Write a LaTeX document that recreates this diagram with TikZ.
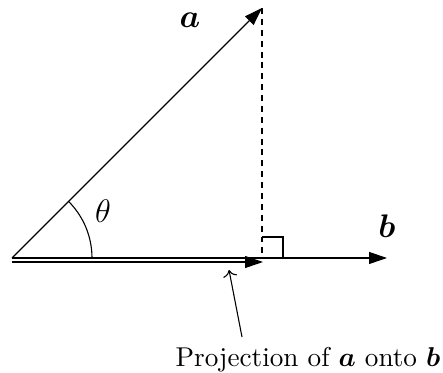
\documentclass[tikz,border=0pt]{standalone}
\usepackage{amsmath,bm}
\usetikzlibrary{arrows.meta}
\begin{document}
\begin{tikzpicture}[x=0.3676pt,y=-0.3676pt,
  vec/.style={-{Triangle[length=6.6pt,width=4.4pt]}},
  dsh/.style={dash pattern=on 2.2pt off 1.8pt},
  lbl/.style={inner sep=0pt,font=\large}]
\useasboundingbox (0,0) rectangle (443,373);
\coordinate (O) at (12,258);
\coordinate (A) at (262,8);
\coordinate (F) at (262,258);
\coordinate (B) at (387,258);
\coordinate (O2) at (12,262);
\coordinate (F2) at (263,262);
\coordinate (Q1) at (262,237);
\coordinate (Q2) at (283,237);
\coordinate (Q3) at (283,258);
\draw[vec] (O) -- (A);
\draw[vec] (O) -- (B);
\draw[vec] (O2) -- (F2);
\draw[dsh] (A) -- (F);
\draw (Q1) -- (Q2) -- (Q3);
\draw (O) ++(0:80) arc[start angle=0,end angle=-45,radius=80];
\node[lbl] (la) at (190,20) {$\bm{a}$};
\node[lbl] (lb) at (387,226) {$\bm{b}$};
\node[lbl] (lt) at (103,211) {$\theta$};
\node[inner sep=0pt,anchor=base] (proj) at (308,367) {Projection of $\bm{a}$ onto $\bm{b}$};
\coordinate (tail) at (242,337);
\coordinate (tip) at (229,270);
\draw[->] (tail) -- (tip);
\end{tikzpicture}
\end{document}
